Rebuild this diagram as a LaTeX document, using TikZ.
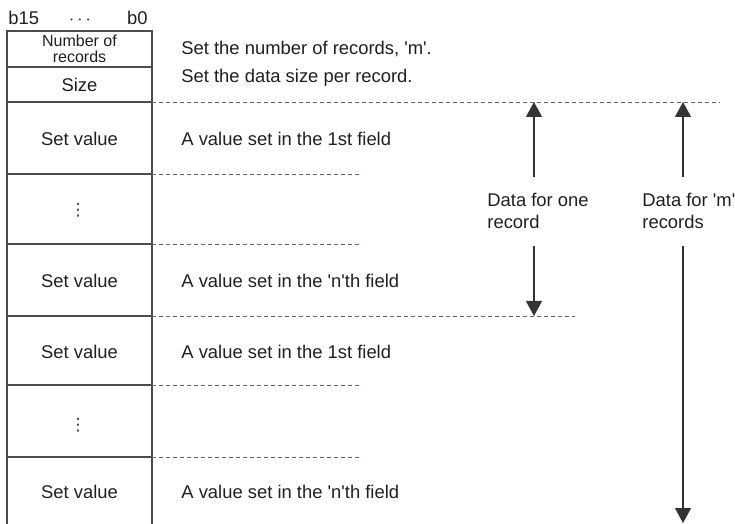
\documentclass[tikz,border=0pt]{standalone}
\usepackage{fontspec}
\setmainfont{Liberation Sans}
\newfontfamily\dejavu{DejaVu Sans}
\usetikzlibrary{arrows.meta}
\newcommand\q{\textquotesingle}
\begin{document}
\begin{tikzpicture}[x=0.5pt,y=-0.5pt,
  txt/.style={font=\fontsize{9.2}{11}\selectfont, text=black!88, inner sep=0pt},
  small/.style={font=\fontsize{8}{8}\selectfont, text=black!88, inner sep=0pt},
  dotsty/.style={font=\dejavu\fontsize{8.5}{8.5}\selectfont, text=black!80, inner sep=0pt},
  boxline/.style={draw=black!70, line width=0.55pt},
  dline/.style={draw=black!60, line width=0.45pt, dash pattern=on 2.1pt off 1.4pt},
  arr/.style={draw=black!80, line width=0.6pt, -{Triangle[width=8pt,length=7.5pt]}},
]
\useasboundingbox (0,0) rectangle (735,524);

% header
\node[txt, anchor=base west] (b15) at (8,25) {b15};
\node[txt, anchor=base] (hd) at (80,25) {$\cdots$};
\node[txt, anchor=base east] (b0) at (148,25) {b0};

% box
\draw[boxline] (7,524) -- (7,31) -- (152,31) -- (152,524);
\foreach \yy in {67,102,174,244,316,385,457}
  \draw[boxline] (7,\yy) -- (152,\yy);

% dashed lines
\coordinate (d0a) at (152,102); \coordinate (d0b) at (720,102);
\coordinate (d1a) at (152,174); \coordinate (d1b) at (362,174);
\coordinate (d2a) at (152,244); \coordinate (d2b) at (362,244);
\coordinate (d3a) at (152,316); \coordinate (d3b) at (575,316);
\coordinate (d4a) at (152,385); \coordinate (d4b) at (362,385);
\coordinate (d5a) at (152,457); \coordinate (d5b) at (362,457);
\foreach \i in {0,...,5} \draw[dline] (d\i a) -- (d\i b);

% cell texts
\node[small, anchor=base] (nr1) at (79.5,46.7) {Number of};
\node[small, anchor=base] (nr2) at (79.5,62.3) {records};
\node[txt, anchor=base] (sz) at (79.5,92) {Size};
\node[txt, anchor=base] (sv1) at (79.5,146) {Set value};
\node[dotsty] (vd1) at (78,210.5) {⋮};
\node[txt, anchor=base] (sv2) at (79.5,288) {Set value};
\node[txt, anchor=base] (sv3) at (79.5,358) {Set value};
\node[dotsty] (vd2) at (78,425) {⋮};
\node[txt, anchor=base] (sv4) at (79.5,498) {Set value};

% descriptions
\node[txt, anchor=base west] (ds1) at (181,55) {Set the number of records, \q m\q.};
\node[txt, anchor=base west] (ds2) at (181,83) {Set the data size per record.};
\node[txt, anchor=base west] (ds3) at (181,146) {A value set in the 1st field};
\node[txt, anchor=base west] (ds4) at (181,288) {A value set in the \q n\q th field};
\node[txt, anchor=base west] (ds5) at (181,358) {A value set in the 1st field};
\node[txt, anchor=base west] (ds6) at (181,498) {A value set in the \q n\q th field};

% arrow labels
\node[txt, anchor=base west] (one1) at (487,207) {Data for one};
\node[txt, anchor=base west] (one2) at (487,229) {record};
\node[txt, anchor=base west] (m1) at (642,207) {Data for \q m\q};
\node[txt, anchor=base west] (m2) at (642,229) {records};

% arrows
\coordinate (a1s) at (534,177); \coordinate (a1t) at (534,102);
\coordinate (a2s) at (534,246); \coordinate (a2t) at (534,316);
\coordinate (a3s) at (683,177); \coordinate (a3t) at (683,102);
\coordinate (a4s) at (683,246); \coordinate (a4t) at (683,523);
\draw[arr] (a1s) -- (a1t);
\draw[arr] (a2s) -- (a2t);
\draw[arr] (a3s) -- (a3t);
\draw[arr] (a4s) -- (a4t);
\end{tikzpicture}
\end{document}
